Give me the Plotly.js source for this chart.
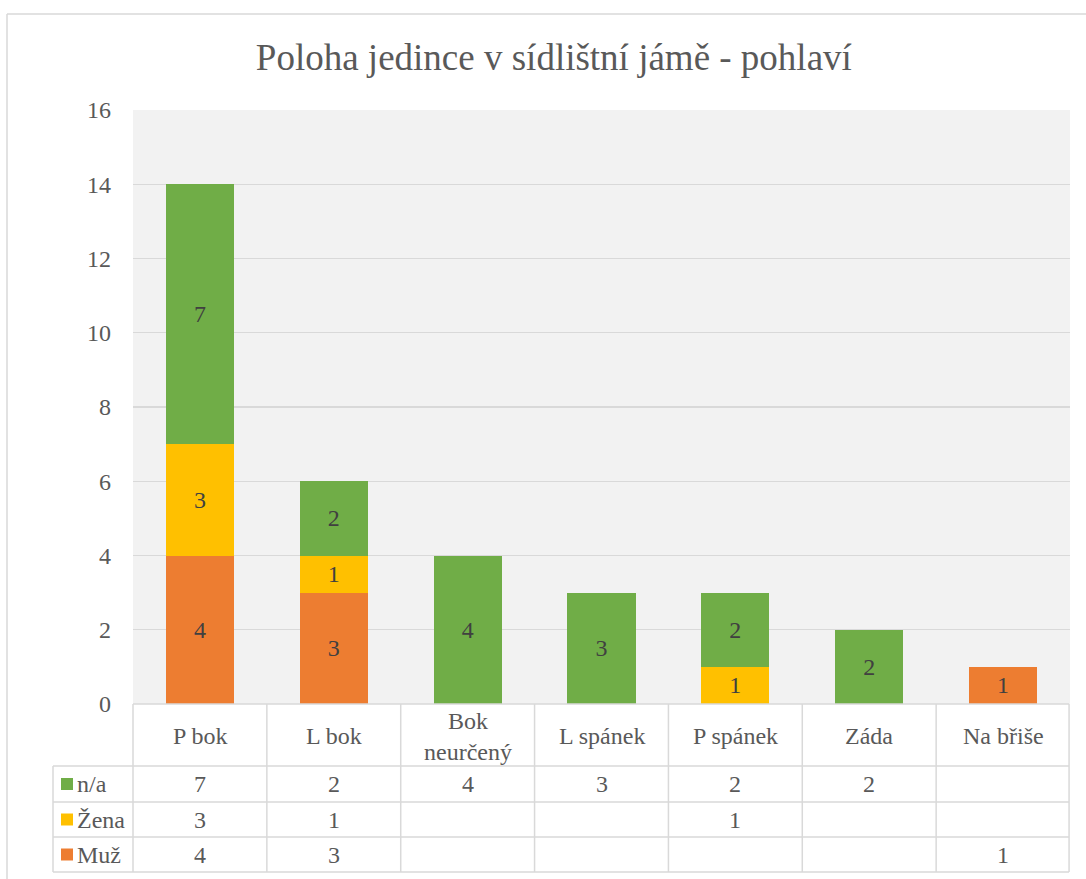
<!DOCTYPE html>
<html>
<head>
<meta charset="utf-8">
<script src="https://cdn.plot.ly/plotly-3.0.1.min.js"></script>
<style>html,body{margin:0;padding:0;background:#fff;}#chart{width:1086px;height:879px;}</style>
</head>
<body>
<div id="chart"></div>
<script>
// ---- data ----
const categories = ["P bok", "L bok", "Bok neurčený", "L spánek", "P spánek", "Záda", "Na břiše"];
const headerLabels = ["P bok", "L bok", "Bok<br>neurčený", "L spánek", "P spánek", "Záda", "Na břiše"];
const seriesNames = ["n/a", "Žena", "Muž"];
const naValues   = [7, 2, 4, 3, 2, 2, null];
const zenaValues = [3, 1, null, null, 1, null, null];
const muzValues  = [4, 3, null, null, null, null, 1];
const yTicks = [0, 2, 4, 6, 8, 10, 12, 14, 16];

// ---- styles ----
const colors = {"n/a": "#70AD47", "Žena": "#FFC000", "Muž": "#ED7D31"};
const FONT = "Liberation Serif";
const FS = 24;
const W = 1086, H = 879;
const PL = 133, PR = 1070, PT = 110, PB = 704;
const px2x = p => (p - PL) / (PR - PL);
const px2y = p => (PB - p) / (PB - PT);
const lineColor = "#D9D9D9";

function barTrace(name, vals) {
  return {
    type: "bar", name: name, x: categories, y: vals,
    marker: {color: colors[name]},
    width: 0.51,
    text: vals.map(v => v == null ? "" : String(v)),
    textposition: "inside", insidetextanchor: "middle", textangle: 0,
    textfont: {family: FONT, size: FS, color: "#404040"},
    hoverinfo: "x+y+name", showlegend: false
  };
}
const traces = [barTrace("Muž", muzValues), barTrace("Žena", zenaValues), barTrace("n/a", naValues)];

const shapes = [];
const annotations = [];
function hline(y, x0, x1) {
  shapes.push({type: "line", xref: "paper", yref: "paper", x0: px2x(x0), x1: px2x(x1), y0: px2y(y), y1: px2y(y), line: {color: lineColor, width: 1.5}});
}
function vline(x, y0, y1) {
  shapes.push({type: "line", xref: "paper", yref: "paper", x0: x, x1: x, y0: px2y(y0), y1: px2y(y1), line: {color: lineColor, width: 1.5}});
}
// outer chart border
hline(14, 7, 1100);
shapes.push({type: "line", xref: "paper", yref: "paper", x0: px2x(7), x1: px2x(7), y0: px2y(14), y1: px2y(900), line: {color: lineColor, width: 1.5}});

// data table grid
const rowLines = [766, 802, 837, 872];
hline(PB, PL, 1069);
rowLines.forEach(y => hline(y, 53, 1069));
for (let k = 0; k <= categories.length; k++) vline(k / categories.length - (k === categories.length ? 0.001 : 0), PB, 872);
shapes.push({type: "line", xref: "paper", yref: "paper", x0: px2x(53), x1: px2x(53), y0: px2y(766), y1: px2y(872), line: {color: lineColor, width: 1.5}});

// header labels
headerLabels.forEach((c, j) => {
  annotations.push({xref: "x", yref: "paper", x: categories[j], y: px2y(736), text: c, showarrow: false,
    xanchor: "center", yanchor: "middle", font: {family: FONT, size: FS, color: "#595959"}});
});
// value rows
const rowData = [naValues, zenaValues, muzValues];
const rowCenters = [784, 819.5, 854.5];
rowData.forEach((vals, i) => {
  const yc = px2y(rowCenters[i]);
  vals.forEach((v, j) => {
    if (v == null) return;
    annotations.push({xref: "x", yref: "paper", x: categories[j], y: yc, text: String(v), showarrow: false,
      xanchor: "center", yanchor: "middle", font: {family: FONT, size: FS, color: "#595959"}});
  });
  // legend key
  const name = seriesNames[i];
  shapes.push({type: "rect", xref: "paper", yref: "paper", x0: px2x(61), x1: px2x(73),
    y0: px2y(rowCenters[i] - 6), y1: px2y(rowCenters[i] + 6), fillcolor: colors[name], line: {width: 0}});
  annotations.push({xref: "paper", yref: "paper", x: px2x(75), y: yc, text: name, showarrow: false,
    xanchor: "left", yanchor: "middle", font: {family: FONT, size: FS, color: "#595959"}});
});

const layout = {
  width: W, height: H,
  margin: {l: PL, r: W - PR, t: PT, b: H - PB, pad: 0},
  paper_bgcolor: "#ffffff", plot_bgcolor: "#F2F2F2",
  barmode: "stack",
  font: {family: FONT},
  title: {text: "Poloha jedince v sídlištní jámě - pohlaví", xref: "container", x: 0.51, xanchor: "center",
    yref: "container", y: 1 - 57 / H, yanchor: "middle", font: {family: FONT, size: 37, color: "#595959"}},
  xaxis: {type: "category", showticklabels: false, showgrid: false, zeroline: false, showline: false, ticks: "", fixedrange: true},
  yaxis: {range: [0, 16], tickvals: yTicks, ticktext: yTicks.map(String), showgrid: true, gridcolor: lineColor, gridwidth: 1.3,
    zeroline: false, showline: false, ticks: "", ticklabelstandoff: 21,
    tickfont: {family: FONT, size: FS, color: "#595959"}, fixedrange: true},
  shapes: shapes, annotations: annotations, showlegend: false
};
Plotly.newPlot("chart", traces, layout, {displayModeBar: false, staticPlot: true});
</script>
</body>
</html>
